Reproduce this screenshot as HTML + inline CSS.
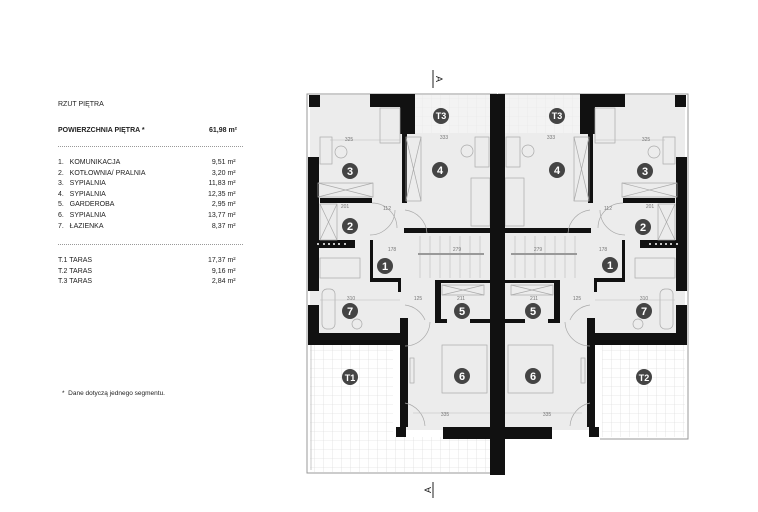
<!DOCTYPE html>
<html><head><meta charset="utf-8"><style>
body{margin:0;background:#fff;width:758px;height:512px;overflow:hidden;font-family:"Liberation Sans",sans-serif}
.t{position:absolute;font-size:7px;color:#222;white-space:nowrap}
</style></head><body>
<div class="t" style="left:58px;top:101px">RZUT PIĘTRA</div>
<div class="t" style="left:58px;top:127px;font-weight:bold">POWIERZCHNIA PIĘTRA *</div>
<div class="t" style="left:209px;top:127px;font-weight:bold">61,98 m²</div>
<div style="position:absolute;left:58px;top:146px;width:185px;border-top:1px dotted #999"></div>
<div class="t" style="left:58px;top:158px;line-height:10.6px">1.&nbsp;&nbsp;&nbsp;KOMUNIKACJA<br>2.&nbsp;&nbsp;&nbsp;KOTŁOWNIA/ PRALNIA<br>3.&nbsp;&nbsp;&nbsp;SYPIALNIA<br>4.&nbsp;&nbsp;&nbsp;SYPIALNIA<br>5.&nbsp;&nbsp;&nbsp;GARDEROBA<br>6.&nbsp;&nbsp;&nbsp;SYPIALNIA<br>7.&nbsp;&nbsp;&nbsp;ŁAZIENKA</div>
<div class="t" style="left:208px;top:158px;line-height:10.6px;text-align:right">9,51 m²<br>3,20 m²<br>11,83 m²<br>12,35 m²<br>2,95 m²<br>13,77 m²<br>8,37 m²</div>
<div style="position:absolute;left:58px;top:244px;width:185px;border-top:1px dotted #999"></div>
<div class="t" style="left:58px;top:256px;line-height:10.6px">T.1&nbsp;TARAS<br>T.2&nbsp;TARAS<br>T.3&nbsp;TARAS</div>
<div class="t" style="left:208px;top:256px;line-height:10.6px;text-align:right">17,37 m²<br>9,16 m²<br>2,84 m²</div>
<div class="t" style="left:62px;top:390px;font-size:6.5px">*&nbsp;&nbsp;Dane dotyczą jednego segmentu.</div>

<svg style="position:absolute;left:0;top:0" width="758" height="512" viewBox="0 0 758 512">
<defs>
<pattern id="g" width="9" height="9" patternUnits="userSpaceOnUse"><path d="M9 0V9H0" fill="none" stroke="#d6d6d6" stroke-width="0.6"/></pattern>
<g id="half">
 <rect x="310" y="95" width="182" height="250" fill="#ececec"/>
 <rect x="415" y="95" width="77" height="38" fill="url(#g)"/>
 <rect x="415" y="95" width="77" height="38" fill="#fff" opacity="0.4"/>
 <rect x="405" y="318" width="87" height="112" fill="#ececec"/>
 <polyline points="307,345 307,94 497,94" fill="none" stroke="#999" stroke-width="1"/>
 <g fill="#111">
  <rect x="309" y="95" width="11" height="12"/>
  <rect x="308" y="157" width="11" height="134"/>
  <rect x="308" y="305" width="11" height="40"/>
  <rect x="308" y="333" width="97" height="12"/>
  <rect x="400" y="318" width="8" height="109"/>
  <rect x="396" y="427" width="10" height="10"/>
  <rect x="443" y="427" width="50" height="12"/>
  <rect x="370" y="94" width="45" height="13"/>
  <rect x="400" y="94" width="15" height="40"/>
  <rect x="402" y="133" width="5" height="70"/>
  <rect x="404" y="228" width="88" height="5"/>
  <rect x="320" y="198" width="52" height="5"/>
  <rect x="313" y="240" width="42" height="8"/>
  <rect x="370" y="240" width="3" height="42"/>
  <rect x="370" y="278" width="30" height="4"/>
  <rect x="398" y="278" width="3" height="14"/>
  <rect x="435" y="280" width="6" height="42"/>
  <rect x="435" y="280" width="57" height="3"/>
  <rect x="435" y="319" width="12" height="4"/>
  <rect x="470" y="319" width="22" height="4"/>
 </g>
 <g fill="#fff"><circle cx="318" cy="244" r="1"/><circle cx="324" cy="244" r="1"/><circle cx="329" cy="244" r="1"/><circle cx="334" cy="244" r="1"/><circle cx="339" cy="244" r="1"/><circle cx="345" cy="244" r="1"/></g>
 <g fill="none" stroke="#aaa" stroke-width="0.7">
  <rect x="380" y="108" width="20" height="35"/>
  <rect x="320" y="137" width="12" height="27"/>
  <circle cx="341" cy="152" r="6"/>
  <rect x="318" y="183" width="55" height="14"/>
  <line x1="318" y1="183" x2="373" y2="197"/><line x1="373" y1="183" x2="318" y2="197"/>
  <rect x="406" y="137" width="15" height="64"/>
  <line x1="406" y1="137" x2="421" y2="201"/><line x1="421" y1="137" x2="406" y2="201"/>
  <rect x="471" y="178" width="19" height="48"/>
  <rect x="475" y="137" width="14" height="30"/>
  <circle cx="467" cy="151" r="6"/>
  <rect x="320" y="204" width="17" height="36"/>
  <line x1="320" y1="204" x2="337" y2="240"/><line x1="337" y1="204" x2="320" y2="240"/>
  <rect x="320" y="258" width="40" height="20"/>
  <rect x="322" y="289" width="13" height="40" rx="5"/>
  <circle cx="357" cy="324" r="5"/>
  <rect x="442" y="285" width="42" height="10"/>
  <line x1="442" y1="285" x2="484" y2="295"/><line x1="484" y1="285" x2="442" y2="295"/>
  <rect x="442" y="345" width="45" height="48"/>
  <rect x="410" y="358" width="4" height="25"/>
  <path d="M372 203 A25 25 0 0 1 397 228"/>
  <path d="M405 210 A25 25 0 0 1 427 233"/>
  <path d="M370 235 A25 25 0 0 0 395 210"/>
  <path d="M405 305 A25 25 0 0 1 425 320"/>
  <path d="M405 346 A25 25 0 0 0 430 322"/>
  <path d="M405 403 A25 25 0 0 1 425 426"/>
 </g>
 <g stroke="#bbb" stroke-width="0.6">
  <line x1="420" y1="236" x2="420" y2="278"/><line x1="430" y1="236" x2="430" y2="278"/><line x1="440" y1="236" x2="440" y2="278"/><line x1="450" y1="236" x2="450" y2="278"/><line x1="460" y1="236" x2="460" y2="278"/><line x1="470" y1="236" x2="470" y2="278"/><line x1="480" y1="236" x2="480" y2="278"/>
  <line x1="418" y1="254" x2="484" y2="254" stroke="#999" stroke-width="2"/>
  <line x1="413" y1="413" x2="490" y2="413"/>
  <line x1="320" y1="300" x2="400" y2="300"/>
  <line x1="330" y1="140" x2="400" y2="140"/>
 </g>
</g>
</defs>
<!-- T1 terrace -->
<rect x="310" y="345" width="83" height="127" fill="url(#g)"/>
<rect x="393" y="437" width="97" height="35" fill="url(#g)"/>
<polyline points="307,345 307,473 490,473" fill="none" stroke="#999" stroke-width="1"/>
<polyline points="311,470 311,345" fill="none" stroke="#bbb" stroke-width="0.8"/>
<!-- T2 terrace -->
<rect x="602" y="345" width="83" height="92" fill="url(#g)"/>
<polyline points="688,345 688,439 600,439" fill="none" stroke="#999" stroke-width="1"/>
<use href="#half"/>
<use href="#half" transform="translate(995,0) scale(-1,1)"/>
<rect x="490" y="94" width="15" height="381" fill="#111"/>
<g font-size="5" fill="#777" text-anchor="middle">
 <text x="349" y="141">325</text><text x="444" y="139">333</text><text x="551" y="139">333</text><text x="646" y="141">325</text>
 <text x="345" y="208">201</text><text x="387" y="210">112</text><text x="608" y="210">112</text><text x="650" y="208">201</text>
 <text x="392" y="251">178</text><text x="457" y="251">279</text><text x="538" y="251">279</text><text x="603" y="251">178</text>
 <text x="351" y="300">310</text><text x="418" y="300">125</text><text x="577" y="300">125</text><text x="644" y="300">310</text>
 <text x="461" y="300">211</text><text x="534" y="300">211</text>
 <text x="445" y="416">335</text><text x="547" y="416">335</text>
</g>
<g font-family="Liberation Sans" font-weight="bold" fill="#fff" text-anchor="middle" font-size="11">
 <g fill="#444">
 <circle cx="350" cy="171" r="8"/><circle cx="440" cy="170" r="8"/><circle cx="350" cy="226" r="8"/><circle cx="385" cy="266" r="8"/><circle cx="350" cy="311" r="8"/><circle cx="462" cy="311" r="8"/><circle cx="462" cy="376" r="8"/><circle cx="350" cy="377" r="8"/><circle cx="441" cy="116" r="8"/>
 <circle cx="557" cy="170" r="8"/><circle cx="645" cy="171" r="8"/><circle cx="643" cy="227" r="8"/><circle cx="610" cy="265" r="8"/><circle cx="644" cy="311" r="8"/><circle cx="533" cy="311" r="8"/><circle cx="533" cy="376" r="8"/><circle cx="644" cy="377" r="8"/><circle cx="557" cy="116" r="8"/>
 </g>
 <text x="350" y="175">3</text><text x="440" y="174">4</text><text x="350" y="230">2</text><text x="385" y="270">1</text><text x="350" y="315">7</text><text x="462" y="315">5</text><text x="462" y="380">6</text><text x="350" y="381" font-size="9">T1</text><text x="441" y="119" font-size="9">T3</text>
 <text x="557" y="174">4</text><text x="645" y="175">3</text><text x="643" y="231">2</text><text x="610" y="269">1</text><text x="644" y="315">7</text><text x="533" y="315">5</text><text x="533" y="380">6</text><text x="644" y="381" font-size="9">T2</text><text x="557" y="119" font-size="9">T3</text>
</g>
<g font-size="9" fill="#222">
 <line x1="433" y1="70" x2="433" y2="88" stroke="#222" stroke-width="1"/>
 <text transform="translate(436,79) rotate(90)" text-anchor="middle">A</text>
 <line x1="433" y1="482" x2="433" y2="498" stroke="#222" stroke-width="1"/>
 <text transform="translate(431,490) rotate(-90)" text-anchor="middle">A</text>
</g>
</svg>
</body></html>
